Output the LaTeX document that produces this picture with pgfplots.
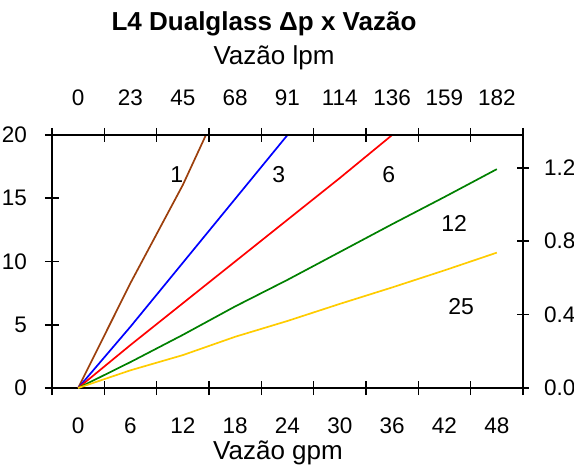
\documentclass[border=0pt]{standalone}
\usepackage{pgfplots}
\pgfplotsset{compat=1.18}
\usepackage{fontspec}
\setmainfont{Liberation Sans}
\definecolor{cbrown}{HTML}{9C3F0C}
\definecolor{cyellow}{HTML}{FFCC00}
\definecolor{cgreen}{HTML}{008000}
\begin{document}
\begin{tikzpicture}
\useasboundingbox (-52pt,-84pt) rectangle (522pt,388pt);
\pgfplotsset{
  myaxis/.style={width=471pt,height=253pt,scale only axis,at={(0,0)},anchor=south west,
    xmin=-3,xmax=51,
    axis line style={line width=1.6pt},
    every tick/.style={black,line width=1.6pt},
    tick align=center,
    tick label style={font=\fontsize{22.5}{27}\selectfont},
    /pgf/number format/assume math mode=true}
}
\begin{axis}[myaxis, ymin=0, ymax=20,
  xtick={-3,3,...,51}, xticklabels={}, xtick pos=both,
  major tick length=14pt,
  ytick={0,5,10,15,20}, yticklabels={0,5,10,15,20}, ytick pos=left,
  yticklabel style={anchor=east, inner sep=0pt, xshift=-18pt},
  extra x ticks={0,6,...,48},
  extra x tick labels={0,6,12,18,24,30,36,42,48},
  extra x tick style={major tick length=0pt, xticklabel style={anchor=base, yshift=-45pt}},
  every axis plot/.append style={line width=1.7pt, line join=round},
]
\addplot[cbrown] coordinates {(0,0) (6,8.3) (12,16.05) (18,25)};
\addplot[blue] coordinates {(0,0) (6,4.85) (12,9.9) (18,14.95) (24,20)};
\addplot[red] coordinates {(0,0) (6,3.4) (12,6.7) (18,10.0) (24,13.3) (30,16.6) (36,20)};
\addplot[cgreen] coordinates {(0,0) (6,2.05) (12,4.2) (18,6.45) (24,8.55) (30,10.75) (36,12.95) (42,15.1) (48,17.3)};
\addplot[cyellow] coordinates {(0,0) (6,1.4) (12,2.6) (18,4.05) (24,5.3) (30,6.65) (36,7.95) (42,9.3) (48,10.7)};
\node[font=\fontsize{23}{27}\selectfont] at (axis cs:11.3,16.9) {1};
\node[font=\fontsize{23}{27}\selectfont] at (axis cs:23.0,16.9) {3};
\node[font=\fontsize{23}{27}\selectfont] at (axis cs:35.6,16.9) {6};
\node[font=\fontsize{23}{27}\selectfont] at (axis cs:43.1,13.0) {12};
\node[font=\fontsize{23}{27}\selectfont] at (axis cs:43.9,6.44) {25};
\end{axis}
\begin{axis}[myaxis, ymin=0, ymax=1.37895,
  axis x line*=top, axis y line*=right,
  xtick={0,6,...,48}, xticklabels={0,23,45,68,91,114,136,159,182},
  xtick style={draw=none},
  xticklabel style={anchor=base, yshift=23pt},
  ytick={0,0.4,0.8,1.2}, yticklabels={0.0,0.4,0.8,1.2},
  major tick length=12pt,
  yticklabel style={anchor=west, inner sep=0pt, xshift=15pt},
]
\end{axis}
\node[anchor=base, font=\bfseries\fontsize{26}{30}\selectfont] at (212pt,357.3pt) {L4 Dualglass Δp x Vazão};
\node[anchor=base, font=\fontsize{26}{30}\selectfont] at (222pt,323pt) {Vazão lpm};
\node[anchor=base, font=\fontsize{26}{30}\selectfont] at (226pt,-72pt) {Vazão gpm};
\end{tikzpicture}
\end{document}
